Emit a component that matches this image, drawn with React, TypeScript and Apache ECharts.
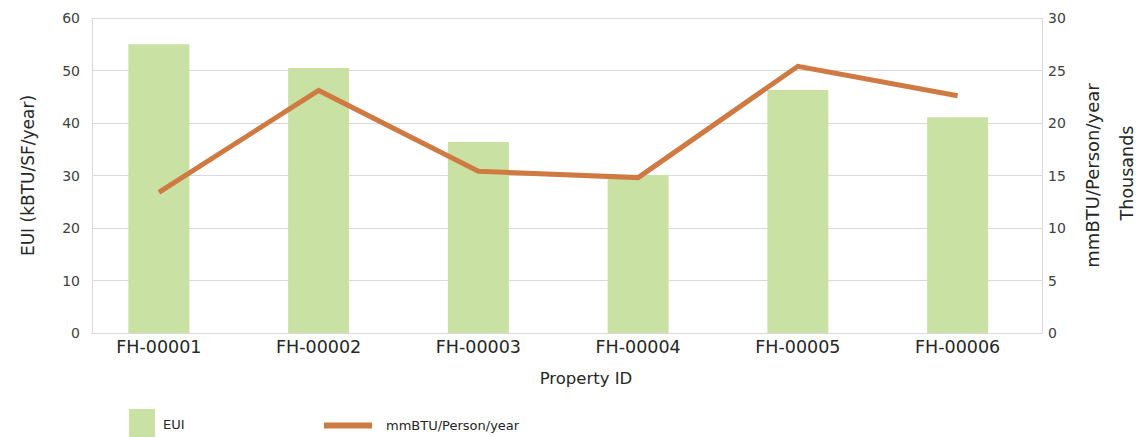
import React, { useEffect, useRef } from "react";
import * as echarts from "echarts";

const categories = ["FH-00001", "FH-00002", "FH-00003", "FH-00004", "FH-00005", "FH-00006"];
const euiValues = [55.0, 50.5, 36.4, 30.1, 46.3, 41.1];
const mmbtuValues = [13.4, 23.1, 15.4, 14.8, 25.4, 22.6];
const leftAxis = { min: 0, max: 60, interval: 10 };
const rightAxis = { min: 0, max: 30, interval: 5 };

const FONT = "DejaVu Sans";
const TEXT = "#262626";
const GRID = "#d9d9d9";
const BAR = "#c9e2a4";
const LINE = "#d07a43";

export default function App() {
  const ref = useRef<HTMLDivElement>(null);
  useEffect(() => {
    if (!ref.current) return;
    const chart = echarts.init(ref.current, undefined, { renderer: "svg" });
    chart.setOption({
      animation: false,
      backgroundColor: "#ffffff",
      textStyle: { fontFamily: FONT, color: TEXT },
      grid: [
        { left: 92, right: 95, top: 18, bottom: 104 },
        { left: 79, right: 99.5, top: 18, bottom: 104 },
      ],
      xAxis: [
        {
          type: "category",
          gridIndex: 0,
          data: categories,
          axisLine: { show: true, lineStyle: { color: GRID, width: 1 } },
          axisTick: { show: false },
          axisLabel: { show: false },
        },
        {
          type: "category",
          gridIndex: 1,
          data: categories,
          axisLine: { show: false },
          axisTick: { show: false },
          axisLabel: { fontSize: 17.5, color: TEXT, margin: 5, fontFamily: FONT },
        },
      ],
      yAxis: [
        {
          type: "value",
          gridIndex: 0,
          ...leftAxis,
          axisLine: { show: true, lineStyle: { color: GRID } },
          splitLine: { show: true, lineStyle: { color: GRID } },
          axisTick: { show: false },
          axisLabel: { fontSize: 14, color: "#404040", margin: 12, fontFamily: FONT },
          name: "EUI (kBTU/SF/year)",
          nameLocation: "middle",
          nameGap: 56,
          nameTextStyle: { fontSize: 17, color: TEXT, fontFamily: FONT },
        },
        {
          type: "value",
          gridIndex: 0,
          position: "right",
          ...rightAxis,
          axisLine: { show: true, lineStyle: { color: GRID } },
          splitLine: { show: false },
          axisTick: { show: false },
          axisLabel: { fontSize: 14, color: "#404040", margin: 6, fontFamily: FONT },
          name: "mmBTU/Person/year",
          nameLocation: "middle",
          nameGap: 41,
          nameTextStyle: { fontSize: 18, color: TEXT, fontFamily: FONT },
        },
        { type: "value", gridIndex: 1, ...leftAxis, show: false },
        { type: "value", gridIndex: 1, ...rightAxis, show: false },
      ],
      legend: [
        {
          data: ["EUI"],
          left: 129,
          top: 409,
          padding: 0,
          icon: "rect",
          itemWidth: 26,
          itemHeight: 30,
          textStyle: { fontSize: 13, color: TEXT, fontFamily: FONT, padding: [0, 0, 0, 3] },
        },
        {
          data: ["mmBTU/Person/year"],
          left: 324,
          top: 419,
          padding: 0,
          icon: "rect",
          itemWidth: 48,
          itemHeight: 6,
          textStyle: { fontSize: 13, color: TEXT, fontFamily: FONT, padding: [0, 0, 0, 9] },
        },
      ],
      graphic: [
        {
          type: "text",
          x: 586,
          y: 378,
          style: { text: "Property ID", fontSize: 16.5, fill: TEXT, fontFamily: FONT, align: "center", verticalAlign: "middle" },
        },
        {
          type: "text",
          x: 1127,
          y: 173,
          rotation: Math.PI / 2,
          style: { text: "Thousands", fontSize: 17.5, fill: TEXT, fontFamily: FONT, align: "center", verticalAlign: "middle" },
        },
      ],
      series: [
        {
          name: "EUI",
          type: "bar",
          xAxisIndex: 1,
          yAxisIndex: 2,
          data: euiValues,
          barWidth: 61,
          itemStyle: { color: BAR },
        },
        {
          name: "mmBTU/Person/year",
          type: "line",
          xAxisIndex: 1,
          yAxisIndex: 3,
          data: mmbtuValues,
          showSymbol: false,
          symbol: "none",
          itemStyle: { color: LINE },
          lineStyle: { color: LINE, width: 5, cap: "butt", join: "miter" },
        },
      ],
    });
    return () => chart.dispose();
  }, []);
  return (
    <div
      ref={ref}
      style={{ position: "absolute", left: 0, top: 0, width: 1137, height: 437 }}
    />
  );
}
